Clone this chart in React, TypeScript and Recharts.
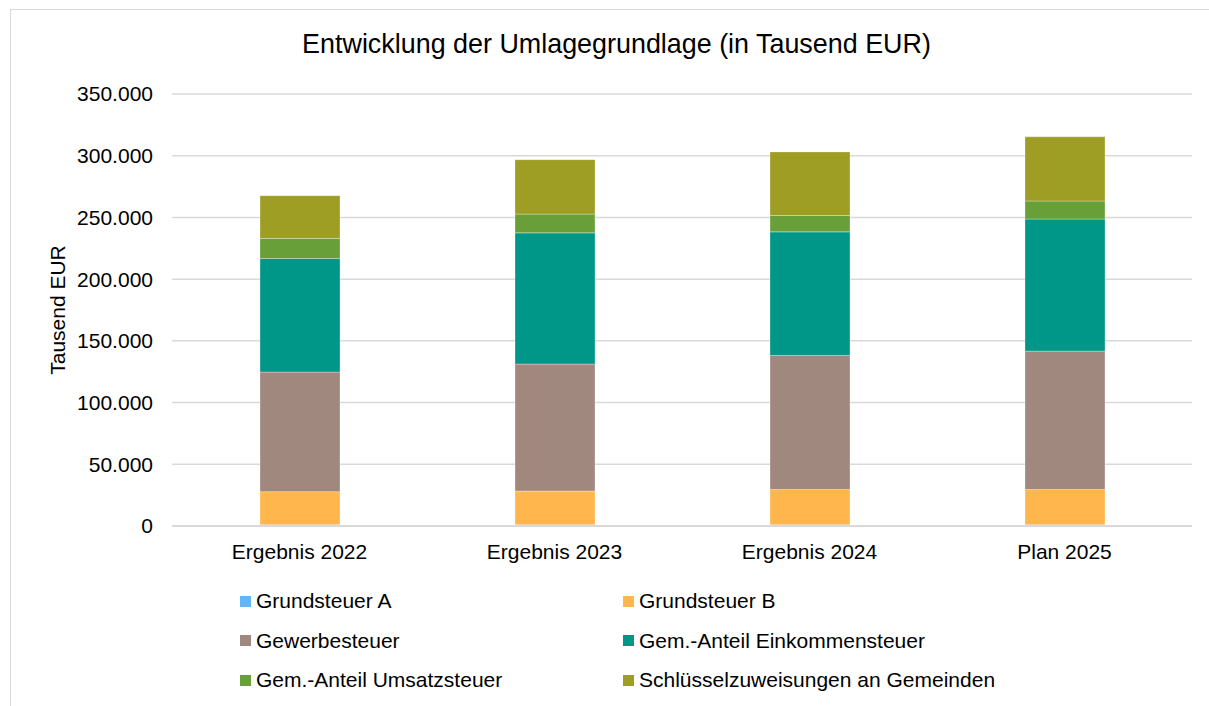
import { BarChart, Bar, XAxis, YAxis, CartesianGrid } from "recharts";

const categories = ["Ergebnis 2022", "Ergebnis 2023", "Ergebnis 2024", "Plan 2025"];

// values in Tausend EUR
const grundsteuerA = [1000, 1000, 1000, 1000];
const grundsteuerB = [26800, 27300, 28600, 28600];
const gewerbesteuer = [96900, 102900, 108600, 112100];
const einkommensteuer = [92000, 106300, 100100, 107000];
const umsatzsteuer = [16200, 15200, 13300, 14600];
const schluesselzuweisungen = [34700, 44100, 51500, 52000];

const yTicks = [0, 50000, 100000, 150000, 200000, 250000, 300000, 350000];

const series = [
  { key: "grundA", name: "Grundsteuer A", color: "#64b5f6", values: grundsteuerA },
  { key: "grundB", name: "Grundsteuer B", color: "#ffb74d", values: grundsteuerB },
  { key: "gewerbe", name: "Gewerbesteuer", color: "#a1887f", values: gewerbesteuer },
  { key: "eink", name: "Gem.-Anteil Einkommensteuer", color: "#009688", values: einkommensteuer },
  { key: "ust", name: "Gem.-Anteil Umsatzsteuer", color: "#689f38", values: umsatzsteuer },
  { key: "schl", name: "Schlüsselzuweisungen an Gemeinden", color: "#9e9d24", values: schluesselzuweisungen },
];

const chartData = categories.map((cat, i) => {
  const row: Record<string, string | number> = { category: cat };
  series.forEach((s) => {
    row[s.key] = s.values[i];
  });
  return row;
});

const FONT = '"Liberation Sans", Arial, sans-serif';

const formatDe = (v: number) => String(v).replace(/\B(?=(\d{3})+(?!\d))/g, ".");

const YLabel = (props: any) => {
  const { viewBox } = props;
  const cx = 57;
  const cy = viewBox.y + viewBox.height / 2;
  return (
    <text
      x={cx}
      y={cy}
      transform={`rotate(-90, ${cx}, ${cy})`}
      textAnchor="middle"
      dominantBaseline="central"
      fill="#000"
      fontSize={21}
      fontFamily={FONT}
    >
      Tausend EUR
    </text>
  );
};

export default function App() {
  return (
    <div
      style={{
        position: "fixed",
        left: 0,
        top: 0,
        width: 1209,
        height: 706,
        fontFamily: FONT,
        overflow: "hidden",
        background: "#fff",
      }}
    >
      <div
        style={{
          position: "absolute",
          left: 10,
          top: 9,
          width: 1240,
          height: 740,
          border: "1.5px solid #d9d9d9",
          boxSizing: "border-box",
        }}
      />
      <div
        style={{
          position: "absolute",
          left: 0,
          top: 29,
          width: 1233,
          textAlign: "center",
          fontSize: 26.9,
          color: "#000",
        }}
      >
        Entwicklung der Umlagegrundlage (in Tausend EUR)
      </div>
      <BarChart
        width={1209}
        height={706}
        data={chartData}
        margin={{ top: 94, right: 17, bottom: 140, left: 0 }}
        style={{ position: "absolute", left: 0, top: 0 }}
      >
        <CartesianGrid vertical={false} stroke="#d9d9d9" strokeWidth={1.5} />
        <XAxis
          dataKey="category"
          axisLine={{ stroke: "#d9d9d9", strokeWidth: 2 }}
          tickLine={false}
          tickSize={0}
          tickMargin={18}
          height={40}
          tick={{ fill: "#000", fontSize: 21, fontFamily: FONT }}
        />
        <YAxis
          width={172}
          domain={[0, 350000]}
          ticks={yTicks}
          interval={0}
          axisLine={false}
          tickLine={false}
          tickSize={0}
          tickMargin={19}
          tickFormatter={formatDe}
          tick={{ fill: "#000", fontSize: 21, fontFamily: FONT }}
          label={<YLabel />}
        />
        {series.map((s) => (
          <Bar
            key={s.key}
            dataKey={s.key}
            name={s.name}
            stackId="a"
            fill={s.color}
            stroke="#ffffff"
            strokeOpacity={0.3}
            strokeWidth={1}
            barSize={80}
            isAnimationActive={false}
          />
        ))}
      </BarChart>
      {series.map((s, i) => {
        const col = i % 2;
        const row = Math.floor(i / 2);
        return (
          <div
            key={s.key}
            style={{
              position: "absolute",
              left: col === 0 ? 240 : 623,
              top: 601 + row * 39.5 - 12,
              height: 24,
              display: "flex",
              alignItems: "center",
              fontSize: 21,
              color: "#000",
              whiteSpace: "nowrap",
            }}
          >
            <span
              style={{
                display: "inline-block",
                width: 11,
                height: 11,
                background: s.color,
                marginRight: 5,
              }}
            />
            {s.name}
          </div>
        );
      })}
    </div>
  );
}
